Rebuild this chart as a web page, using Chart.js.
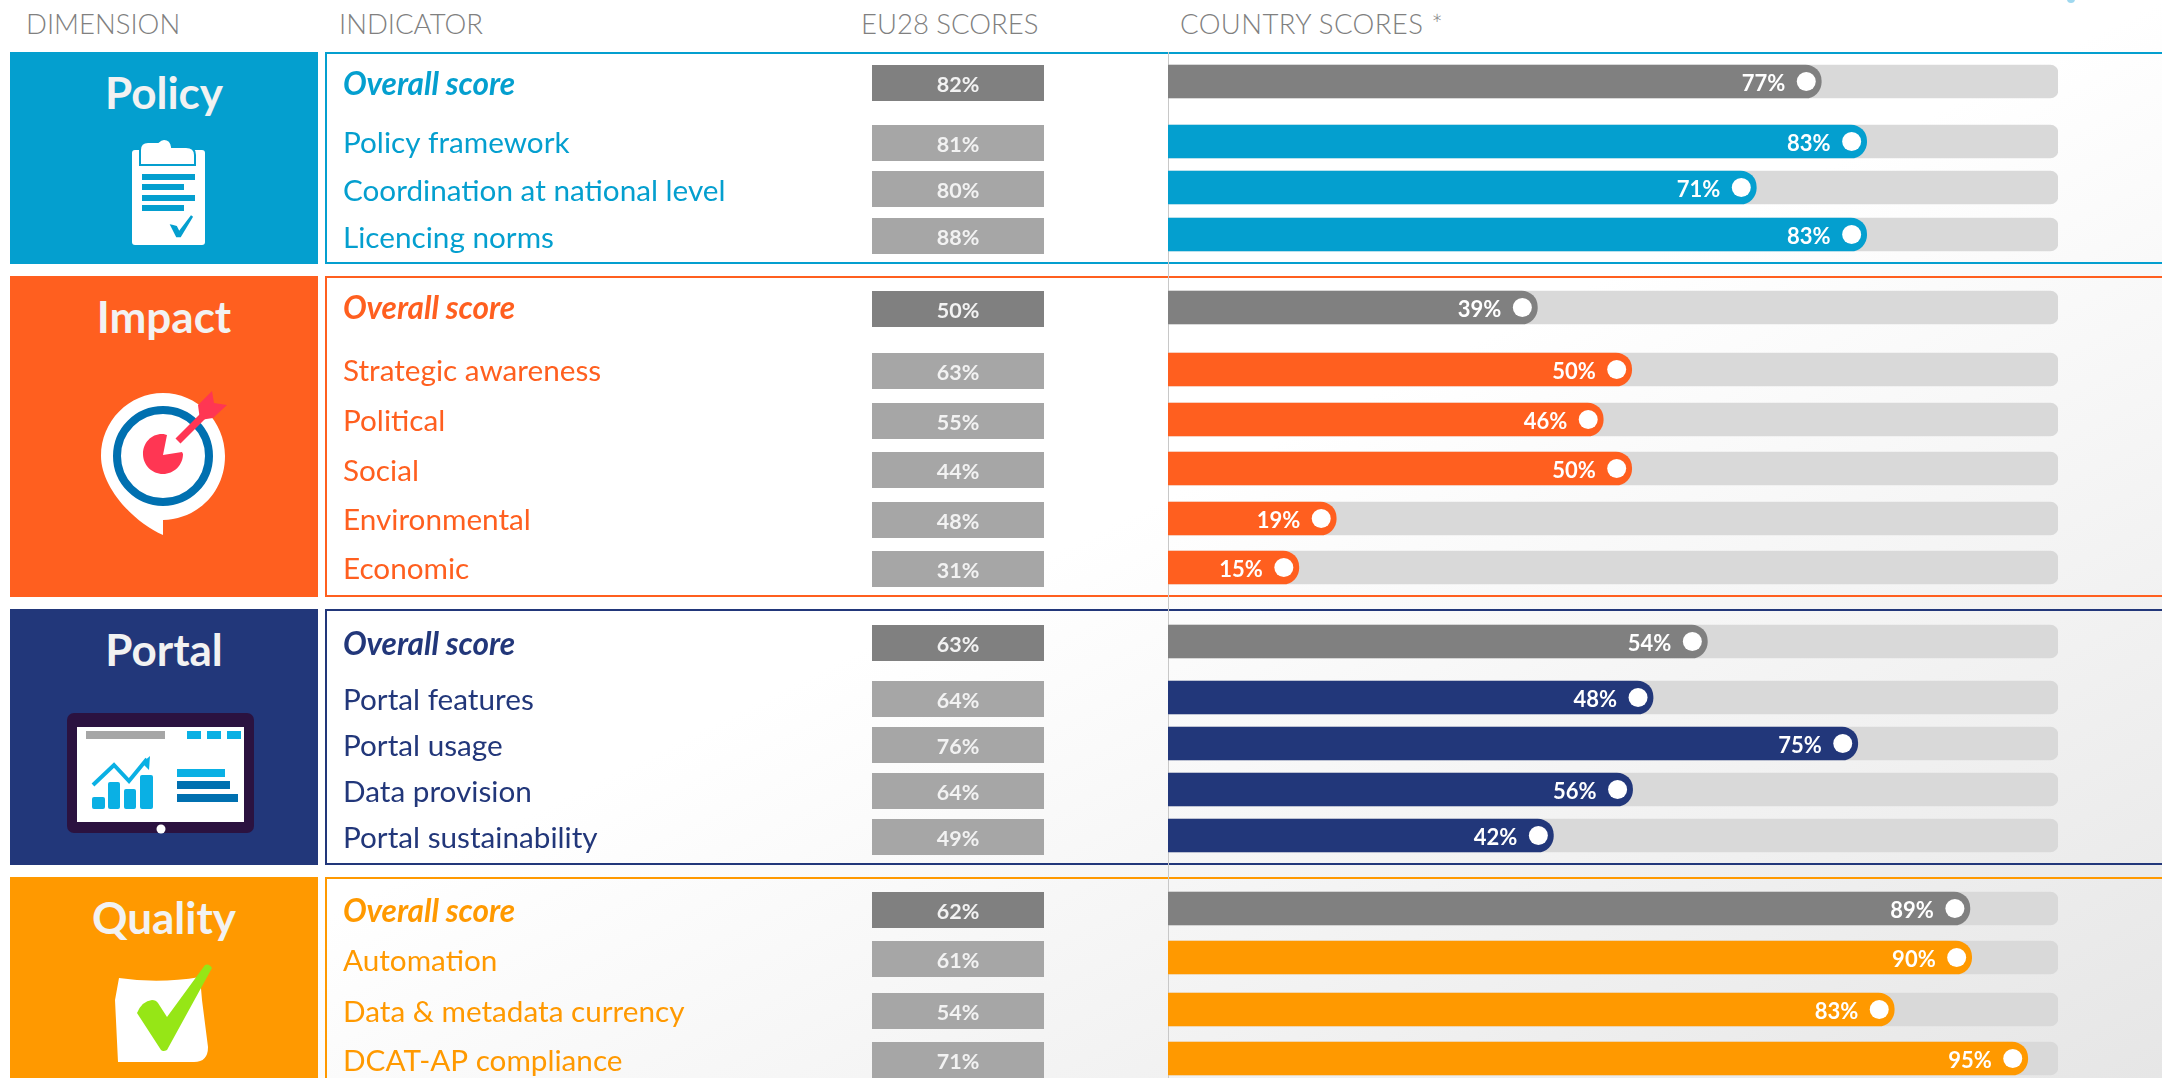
<!DOCTYPE html>
<html><head><meta charset="utf-8">
<style>
html,body{margin:0;padding:0;width:2162px;height:1078px;overflow:hidden;background:linear-gradient(to bottom right,#fff 50%,#e6e6e6 100%);font-family:Lato,sans-serif}
#c{position:absolute;left:0;top:0;z-index:3}
.head{position:absolute;top:9px;font:300 27.5px/30px Lato,sans-serif;color:#808080;white-space:nowrap}
.block{position:absolute;left:10px;width:308px;color:#f2f2f2;font-weight:700;font-size:44px;text-align:center;z-index:1}
.panel{position:absolute;left:325px;right:-4px;border:2px solid;box-sizing:border-box;z-index:1}
svg{position:absolute;left:0;top:0;z-index:2}
</style></head><body>
<div class="head" style="left:26px">DIMENSION</div>
<div class="head" style="left:339px">INDICATOR</div>
<div class="head" style="left:861px">EU28 SCORES</div>
<div class="head" style="left:1180px;letter-spacing:.4px">COUNTRY SCORES *</div>
<div id="blocks"></div>
<svg width="2162" height="1078" viewBox="0 0 2162 1078">
 <circle cx="2071" cy="-1" r="4" fill="#9fd8ef"/>
 <!-- Policy icon -->
 <rect x="132" y="150" width="73" height="95" rx="3" fill="#fff"/>
 <path d="M140 150q0-8 8-8h10q3-3 6-3 7 0 8 8h14q9 0 9 8v10h-55z" fill="#fff" stroke="#049fcf" stroke-width="2"/>
 <g fill="#049fcf"><rect x="142" y="174" width="53" height="6"/><rect x="142" y="184" width="42" height="6"/><rect x="142" y="195" width="53" height="6"/><rect x="142" y="205" width="42" height="6"/></g>
 <path d="M172 226l4 1 3 6 13-17-12 20h-3z" fill="#049fcf" stroke="#049fcf" stroke-width="2.5"/>
 <!-- Impact icon -->
 <path d="M163 393c34 0 62 28 62 63 0 36-27 63-62 64v15c-30-13-62-48-62-79 0-35 28-63 62-63z" fill="#fff"/>
 <circle cx="163" cy="456" r="46" fill="none" stroke="#0070b0" stroke-width="8"/>
 <path d="M163 455l4-20c-3-1-3-1-5-1-11 0-19 9-19 20 0 11 9 20 20 20s20-9 20-20l-1-2z" fill="#ff3653"/>
 <path d="M178 441l30-30" stroke="#ff3653" stroke-width="7" fill="none"/>
 <path d="M198 405l14-14 2 12 13 2-14 13-13 2z" fill="#ff3653"/>
 <!-- Portal icon -->
 <rect x="67" y="713" width="187" height="120" rx="7" fill="#2b1240"/>
 <rect x="77" y="727" width="167" height="95" fill="#fff"/>
 <rect x="86" y="731" width="79" height="8" fill="#a6a6a6"/>
 <g fill="#0ab0e4"><rect x="187" y="731" width="14" height="8"/><rect x="207" y="731" width="14" height="8"/><rect x="227" y="731" width="14" height="8"/>
 <rect x="92" y="797" width="13" height="12" rx="2"/><rect x="108" y="782" width="12" height="27" rx="2"/><rect x="124" y="789" width="12" height="20" rx="2"/><rect x="140" y="775" width="13" height="34" rx="2"/>
 <rect x="177" y="769" width="48" height="8"/><path d="M150 756l-1 14-4-4-3-3z"/></g>
 <path d="M93 785l21-20 15 16 18-22" fill="none" stroke="#0ab0e4" stroke-width="4"/>
 <g fill="#0070b0"><rect x="177" y="781" width="53" height="8"/><rect x="177" y="794" width="61" height="8"/></g>
 <circle cx="161" cy="829" r="4.5" fill="#fff"/>
 <!-- Quality icon -->
 <path d="M119 978q40 6 81-1l2 23 6 47q0 15-14 15l-76 0-3-62z" fill="#fff"/>
 <path d="M137 1013q5-12 15-13 4 0 6 3l9 14 38-52q4-2 7 3l-45 82q-4 2-6 0z" fill="#96e616"/>
</svg>
<canvas id="c" width="2162" height="1078"></canvas>
<script src="https://cdn.jsdelivr.net/npm/chart.js@4"></script>
<script>
// ---- data ----
const indicators = ['Overall score','Policy framework','Coordination at national level','Licencing norms',
  'Overall score','Strategic awareness','Political','Social','Environmental','Economic',
  'Overall score','Portal features','Portal usage','Data provision','Portal sustainability',
  'Overall score','Automation','Data & metadata currency','DCAT-AP compliance'];
const euScores      = [82,81,80,88, 50,63,55,44,48,31, 63,64,76,64,49, 62,61,54,71];
const countryScores = [77,83,71,83, 39,50,46,50,19,15, 54,48,75,56,42, 89,90,83,95];
// how far each bar actually reaches along its 0-100 track in the picture
const barReach      = [73.4,78.5,66.1,78.5, 41.5,52.1,48.9,52.1,18.9,14.7, 60.6,54.5,77.5,52.2,43.3, 90.1,90.3,81.6,96.6];
const trackFull     = indicators.map(() => 100);
const rowDimension  = [0,0,0,0, 1,1,1,1,1,1, 2,2,2,2,2, 3,3,3,3];
const dimensionNames = ['Policy','Impact','Portal','Quality'];
// ---- layout and style ----
const dimensionColours = ['#049fcf','#ff5f1f','#22377a','#ff9900'];
const blockTop    = [52,276,609,877];
const blockBottom = [264,597,865,1090];
const rowTop = [65,125,171,218, 291,353,403,452,502,551, 625,681,727,773,819, 892,941,993,1042];
const labelNudge = [0,-1.4,1.4,1.4, -1.4,-1.4,-1.4,0,-1.4,-0.7, 0,0,0,0,0, 0,1.4,0,0];
const ROW_H = 33, EU_H = 36, EU_LEFT = 872, EU_RIGHT = 1044;
const FONT = 'Lato, sans-serif';

const blocks = document.getElementById('blocks');
dimensionNames.forEach((n,i) => {
  const h = document.createElement('div');
  h.className = 'block';
  h.style.cssText = `top:${blockTop[i]}px;height:${Math.min(blockBottom[i],1078)-blockTop[i]}px;background:${dimensionColours[i]};line-height:80px`;
  h.textContent = n;
  blocks.appendChild(h);
  const p = document.createElement('div');
  p.className = 'panel';
  p.style.cssText = `top:${blockTop[i]}px;height:${blockBottom[i]-blockTop[i]}px;border-color:${dimensionColours[i]}`;
  blocks.appendChild(p);
});

// category axis whose rows sit at the picture's uneven spacing
class RowScale extends Chart.CategoryScale {
  getPixelForValue(value) {
    if (typeof value !== 'number') value = this.parse(value);
    return rowTop[value] + ROW_H / 2;
  }
  _computeLabelItems(chartArea) {
    const items = super._computeLabelItems(chartArea);
    items.forEach((item, i) => { item.options.translation[1] += labelNudge[i]; });
    return items;
  }
  _calculatePadding() {
    this.paddingLeft = this.paddingRight = this.paddingTop = this.paddingBottom = 0;
  }
  getPadding() {
    return { left: 0, top: 0, right: 0, bottom: 0 };
  }
}
RowScale.id = 'rows';
RowScale.defaults = Chart.CategoryScale.defaults;
Chart.register(RowScale);

const isOverall = i => indicators[i] === 'Overall score';

const scoreMarks = {
  id: 'scoreMarks',
  afterDatasetsDraw(chart) {
    const ctx = chart.ctx;
    ctx.save();
    ctx.textBaseline = 'middle';
    // EU28 column: fixed-size boxes carrying the score
    chart.getDatasetMeta(2).data.forEach((el, i) => {
      ctx.fillStyle = isOverall(i) ? '#808080' : '#a6a6a6';
      ctx.fillRect(EU_LEFT, rowTop[i], EU_RIGHT - EU_LEFT, EU_H);
      ctx.fillStyle = '#f2f2f2';
      ctx.font = `700 21.5px ${FONT}`;
      ctx.textAlign = 'center';
      ctx.fillText(euScores[i] + '%', (EU_LEFT + EU_RIGHT) / 2, rowTop[i] + EU_H / 2 + 2.5);
    });
    // country knob and printed score at the bar's end
    chart.getDatasetMeta(1).data.forEach((el, i) => {
      const cx = el.x - 15;
      ctx.fillStyle = '#fff';
      ctx.beginPath();
      ctx.arc(cx, el.y, 9.5, 0, Math.PI * 2);
      ctx.fill();
      ctx.textAlign = 'right';
      ctx.font = `700 22px ${FONT}`;
      ctx.fillText(countryScores[i] + '%', cx - 21, el.y + 2);
    });
    ctx.restore();
  }
};

new Chart(document.getElementById('c'), {
  type: 'bar',
  plugins: [scoreMarks],
  data: {
    labels: indicators,
    datasets: [
      { label: 'Track', data: trackFull, xAxisID: 'x', backgroundColor: '#d9d9d9', order: 3,
        barThickness: ROW_H, grouped: false, borderSkipped: false,
        borderRadius: {topLeft:0,bottomLeft:0,topRight:8,bottomRight:8} },
      { label: 'Country scores', data: barReach, xAxisID: 'x', order: 1,
        backgroundColor: indicators.map((_, i) => isOverall(i) ? '#808080' : dimensionColours[rowDimension[i]]),
        barThickness: ROW_H, grouped: false, borderSkipped: false,
        borderRadius: {topLeft:0,bottomLeft:0,topRight:16,bottomRight:16} },
      { label: 'EU28 scores', data: euScores, xAxisID: 'xEU', order: 4,
        backgroundColor: 'rgba(0,0,0,0)', barThickness: ROW_H, grouped: false }
    ]
  },
  options: {
    indexAxis: 'y',
    responsive: false,
    animation: false,
    events: [],
    layout: { autoPadding: false, padding: { left: 343, right: 104, top: 52, bottom: 0 } },
    plugins: { legend: { display: false }, tooltip: { enabled: false }, title: { display: false } },
    scales: {
      x:   { type: 'linear', min: 0, max: 100, display: false },
      xEU: { type: 'linear', min: 0, max: 100, display: false },
      y: {
        type: 'rows',
        position: 'left',
        afterFit(s) { s.width = 825; },
        grid: { drawOnChartArea: false, drawTicks: false },
        border: { display: true, color: '#c8c8c8', width: 1 },
        ticks: {
          autoSkip: false, padding: 0, crossAlign: 'far', labelOffset: 3,
          color: c => dimensionColours[rowDimension[c.index]],
          font: c => isOverall(c.index)
            ? { family: FONT, size: 31.5, weight: '700', style: 'italic' }
            : { family: FONT, size: 29.7, weight: '400' }
        }
      }
    }
  }
});
</script>
</body></html>
